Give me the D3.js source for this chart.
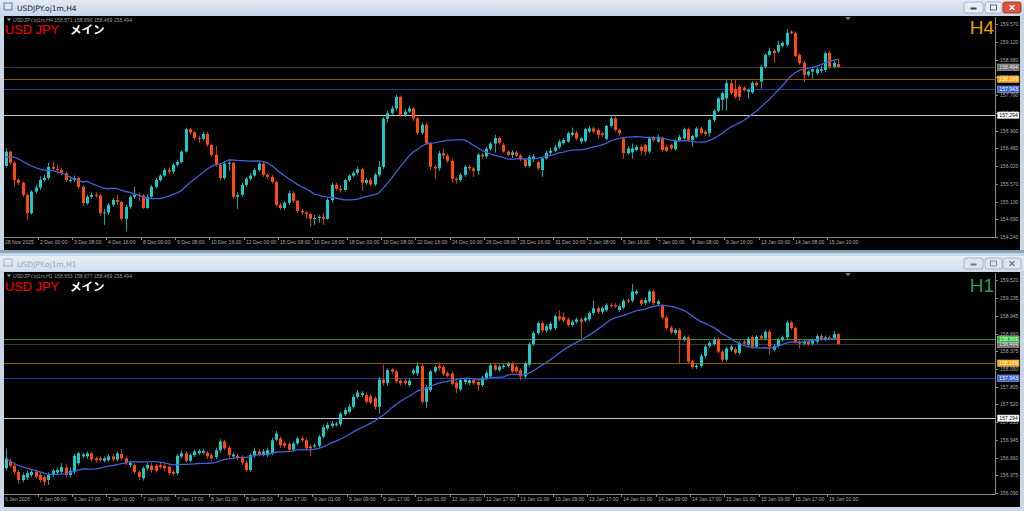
<!DOCTYPE html>
<html><head><meta charset="utf-8">
<script src="https://cdn.jsdelivr.net/npm/d3@7"></script>
<style>
html,body{margin:0;padding:0;background:#f0f0f0;overflow:hidden}
svg{display:block}
</style></head><body>
<svg id="c" width="1024" height="511"></svg>
<script>
// ---------------- DATA ----------------
const h4Open=[156.02,156.38,156.10,155.67,155.60,155.30,154.84,155.38,155.48,155.67,
155.72,156.00,155.95,155.92,155.84,155.67,155.67,155.72,155.50,155.09,
155.25,155.30,155.28,154.84,154.86,155.05,155.17,155.12,154.70,155.00,
155.25,155.30,155.28,154.97,155.25,155.50,155.67,155.78,155.92,155.88,
156.05,156.12,156.38,156.94,156.86,156.72,156.70,156.82,156.55,156.30,
156.05,155.72,156.08,156.10,155.25,155.30,155.55,155.70,155.78,155.92,
156.08,155.80,155.75,155.62,155.05,154.97,155.10,155.34,155.15,154.90,
154.86,154.82,154.70,154.72,154.75,154.70,155.17,155.55,155.45,155.42,
155.67,155.78,155.85,155.94,155.60,155.67,155.56,155.80,156.00,157.20,
157.34,157.46,157.75,157.30,157.38,157.46,157.21,156.85,157.05,156.59,
156.00,155.96,156.34,156.28,156.15,155.70,155.67,155.80,156.00,155.96,
155.90,156.30,156.26,156.45,156.58,156.72,156.55,156.38,156.30,156.36,
156.28,156.18,156.02,156.20,156.12,155.92,156.21,156.35,156.40,156.49,
156.59,156.63,156.80,156.85,156.63,156.65,156.88,156.96,156.92,156.84,
156.70,157.02,157.21,156.92,156.71,156.34,156.36,156.42,156.50,156.55,
156.38,156.74,156.63,156.73,156.50,156.55,156.44,156.65,156.71,156.94,
156.67,156.75,156.96,156.88,156.84,157.17,157.40,157.67,157.71,158.09,
157.95,158.00,157.98,157.88,157.86,158.10,158.13,158.50,158.80,158.90,
158.88,159.02,159.05,159.38,159.34,158.80,158.60,158.30,158.38,158.34,
158.40,158.42,158.85,158.50,158.571];
const h4High=[156.46,156.40,156.14,155.72,155.64,155.33,155.42,155.55,155.76,155.80,
156.10,156.12,156.05,155.98,155.88,155.75,155.78,155.76,155.55,155.30,
155.36,155.36,155.32,154.95,155.10,155.22,155.30,155.15,155.05,155.30,
155.50,155.36,155.32,155.30,155.55,155.72,155.82,155.98,155.98,156.10,
156.18,156.42,156.98,156.97,156.90,156.78,156.88,156.88,156.58,156.52,
156.08,156.14,156.16,156.12,155.36,155.60,155.75,155.84,155.98,156.12,
156.12,155.84,155.80,155.66,155.10,155.15,155.40,155.38,155.18,154.95,
154.90,154.85,154.80,154.80,154.85,155.22,155.60,155.60,155.55,155.70,
155.82,155.90,156.00,155.98,155.72,155.72,155.85,156.15,157.25,157.40,
157.52,157.80,157.78,157.45,157.52,157.50,157.25,157.10,157.10,156.62,
156.05,156.40,156.45,156.32,156.20,155.75,155.85,156.05,156.05,156.00,
156.35,156.35,156.50,156.62,156.80,156.76,156.60,156.42,156.42,156.40,
156.32,156.22,156.30,156.32,156.14,156.24,156.40,156.48,156.55,156.68,
156.72,156.88,156.98,156.90,156.75,156.98,157.02,157.00,156.95,156.88,
157.05,157.30,157.26,156.96,156.75,156.52,156.58,156.55,156.56,156.58,
156.75,156.78,156.80,156.76,156.55,156.58,156.68,156.80,156.98,156.98,
156.80,157.00,157.00,156.92,157.20,157.44,157.75,157.88,158.17,158.17,
158.17,158.05,158.02,157.96,158.14,158.14,158.55,158.84,158.98,158.95,
159.15,159.14,159.45,159.42,159.38,158.84,158.64,158.42,158.48,158.50,
158.52,158.88,158.90,158.64,158.696];
const h4Low=[155.98,156.05,155.50,155.55,155.25,154.67,154.80,155.33,155.42,155.62,
155.68,155.90,155.85,155.78,155.62,155.60,155.62,155.45,155.02,155.05,
155.20,155.22,154.78,154.55,154.80,155.00,155.05,154.65,154.38,154.95,
155.20,155.15,154.95,154.95,155.20,155.45,155.62,155.75,155.82,155.82,
156.00,156.08,156.35,156.80,156.68,156.60,156.66,156.50,156.25,156.00,
155.65,155.68,155.90,155.20,154.95,155.25,155.50,155.66,155.74,155.88,
155.75,155.70,155.58,155.00,154.92,154.92,155.05,155.10,154.85,154.80,
154.70,154.50,154.55,154.60,154.55,154.68,155.10,155.40,155.35,155.38,
155.62,155.74,155.80,155.40,155.55,155.52,155.52,155.75,155.95,157.10,
157.30,157.40,157.25,157.25,157.35,157.15,156.80,156.80,156.55,155.92,
155.70,155.90,156.20,156.10,155.60,155.58,155.62,155.75,155.90,155.75,
155.80,156.20,156.20,156.40,156.35,156.55,156.35,156.25,156.22,156.24,
156.14,155.98,155.98,156.12,155.92,155.75,156.18,156.30,156.36,156.45,
156.55,156.60,156.76,156.66,156.58,156.60,156.84,156.84,156.70,156.74,
156.66,156.98,156.88,156.78,156.20,156.30,156.20,156.38,156.30,156.28,
156.34,156.62,156.60,156.38,156.36,156.42,156.40,156.62,156.68,156.62,
156.50,156.72,156.80,156.76,156.75,157.12,157.36,157.42,157.40,157.80,
157.70,157.65,157.88,157.70,157.82,158.00,157.95,158.46,158.76,158.60,
158.84,158.98,159.00,159.30,158.74,158.55,158.12,158.25,158.20,158.30,
158.35,158.36,158.44,158.46,158.469];
const h4Close=[156.38,156.10,155.67,155.60,155.30,154.84,155.38,155.48,155.67,155.72,
156.00,155.95,155.92,155.84,155.67,155.67,155.72,155.50,155.09,155.25,
155.30,155.28,154.84,154.86,155.05,155.17,155.12,154.70,155.00,155.25,
155.30,155.28,154.97,155.25,155.50,155.67,155.78,155.92,155.88,156.05,
156.12,156.38,156.94,156.86,156.72,156.70,156.82,156.55,156.30,156.05,
155.72,156.08,156.10,155.25,155.30,155.55,155.70,155.78,155.92,156.08,
155.80,155.75,155.62,155.05,154.97,155.10,155.34,155.15,154.90,154.86,
154.82,154.70,154.72,154.75,154.70,155.17,155.55,155.45,155.42,155.67,
155.78,155.85,155.94,155.60,155.67,155.56,155.80,156.00,157.20,157.34,
157.46,157.75,157.30,157.38,157.46,157.21,156.85,157.05,156.59,156.00,
155.96,156.34,156.28,156.15,155.70,155.67,155.80,156.00,155.96,155.90,
156.30,156.26,156.45,156.58,156.72,156.60,156.38,156.30,156.36,156.28,
156.18,156.02,156.25,156.26,155.96,156.21,156.35,156.40,156.49,156.63,
156.67,156.84,156.85,156.71,156.71,156.94,156.96,156.88,156.80,156.80,
157.02,157.21,156.92,156.84,156.34,156.46,156.46,156.50,156.40,156.38,
156.71,156.67,156.75,156.42,156.40,156.46,156.65,156.75,156.94,156.67,
156.77,156.96,156.84,156.82,157.17,157.40,157.71,157.84,158.09,157.84,
157.75,157.75,157.92,157.92,158.10,158.04,158.50,158.80,158.90,158.84,
159.05,159.10,159.35,159.34,158.77,158.59,158.30,158.38,158.44,158.44,
158.44,158.84,158.50,158.60,158.494];
// SMA(20) values for the first 19 bars (earlier closes not visible)
const h4MaLead=[156.25,156.25,156.24,156.20,156.14,156.08,156.02,155.98,155.94,155.92,
155.91,155.90,155.88,155.85,155.80,155.75,155.70,155.66,155.62];

const h1Open=[156.49,156.60,156.53,156.43,156.30,156.34,156.38,156.43,156.38,156.35,
156.30,156.38,156.42,156.43,156.50,156.38,156.43,156.57,156.68,156.68,
156.73,156.65,156.65,156.61,156.62,156.68,156.63,156.72,156.65,156.54,
156.54,156.43,156.33,156.49,156.53,156.53,156.54,156.53,156.51,156.43,
156.41,156.68,156.73,156.61,156.70,156.73,156.74,156.74,156.70,156.67,
156.78,156.92,156.82,156.68,156.69,156.67,156.58,156.46,156.70,156.76,
156.71,156.70,156.73,156.95,156.97,156.89,156.88,156.79,156.89,156.97,
156.94,156.84,156.84,156.85,157.00,157.13,157.17,157.19,157.20,157.36,
157.40,157.48,157.64,157.67,157.67,157.65,157.62,157.48,157.92,157.86,
158.08,158.05,157.90,157.90,157.83,158.02,158.02,158.14,157.56,157.75,
158.05,158.14,158.12,158.02,158.02,157.87,157.76,157.88,157.86,157.91,
157.88,157.83,157.94,157.97,158.15,158.07,158.12,158.14,158.18,158.12,
158.07,157.97,158.16,158.49,158.67,158.83,158.71,158.73,158.75,158.94,
158.93,158.89,158.80,158.85,158.89,158.87,158.89,158.99,159.07,159.01,
159.04,159.12,159.12,159.04,159.08,159.20,159.19,159.31,159.20,159.15,
159.18,159.34,159.14,159.11,158.92,158.76,158.67,158.72,158.56,158.60,
158.21,158.12,158.14,158.30,158.46,158.49,158.57,158.37,158.24,158.40,
158.41,158.35,158.53,158.48,158.60,158.45,158.62,158.58,158.69,158.40,
158.46,158.56,158.60,158.84,158.75,158.53,158.50,158.53,158.50,158.53,
158.62,158.57,158.60,158.58,158.653];
const h1High=[156.81,156.64,156.56,156.46,156.42,156.45,156.48,156.47,156.42,156.38,
156.42,156.48,156.50,156.57,156.55,156.50,156.72,156.76,156.74,156.76,
156.76,156.68,156.68,156.68,156.71,156.72,156.76,156.80,156.68,156.61,
156.57,156.46,156.52,156.58,156.57,156.56,156.58,156.57,156.55,156.46,
156.72,156.78,156.76,156.73,156.79,156.80,156.80,156.77,156.73,156.82,
156.96,156.95,156.85,156.74,156.73,156.70,156.62,156.73,156.82,156.80,
156.80,156.82,156.98,157.09,157.00,156.92,156.91,156.92,157.00,157.00,
156.97,156.87,156.89,157.03,157.19,157.23,157.25,157.24,157.40,157.47,
157.52,157.68,157.75,157.73,157.71,157.68,157.65,157.96,158.16,158.10,
158.11,158.08,157.93,157.93,157.94,158.10,158.20,158.18,157.83,158.08,
158.15,158.20,158.15,158.05,158.05,157.90,157.94,157.95,157.94,157.94,
157.91,157.98,158.06,158.18,158.19,158.16,158.17,158.21,158.21,158.15,
158.10,158.21,158.52,158.70,158.86,158.87,158.81,158.85,158.97,159.04,
159.00,158.92,158.88,158.92,158.92,158.94,159.02,159.19,159.10,159.10,
159.15,159.15,159.15,159.13,159.22,159.23,159.46,159.37,159.23,159.24,
159.37,159.37,159.21,159.14,158.95,158.79,158.75,158.75,158.63,158.63,
158.24,158.17,158.33,158.48,158.54,158.60,158.60,158.40,158.45,158.48,
158.44,158.54,158.56,158.61,158.63,158.64,158.65,158.72,158.72,158.49,
158.59,158.63,158.87,158.87,158.78,158.56,158.56,158.56,158.58,158.65,
158.65,158.63,158.63,158.70,158.677];
const h1Low=[156.45,156.50,156.40,156.24,156.26,156.30,156.34,156.32,156.26,156.21,
156.22,156.34,156.38,156.40,156.34,156.34,156.40,156.54,156.65,156.64,
156.60,156.58,156.59,156.58,156.59,156.60,156.60,156.62,156.54,156.50,
156.40,156.30,156.29,156.45,156.42,156.42,156.48,156.44,156.38,156.36,
156.38,156.65,156.58,156.58,156.67,156.70,156.71,156.64,156.61,156.63,
156.74,156.78,156.66,156.66,156.62,156.54,156.43,156.43,156.66,156.68,
156.68,156.67,156.70,156.92,156.82,156.81,156.76,156.76,156.86,156.91,
156.78,156.68,156.81,156.82,156.97,157.10,157.14,157.16,157.17,157.33,
157.37,157.45,157.61,157.64,157.53,157.52,157.44,157.37,157.82,157.82,
158.01,157.86,157.82,157.83,157.80,157.99,157.98,157.53,157.46,157.72,
158.02,158.06,157.98,157.95,157.82,157.70,157.73,157.84,157.83,157.83,
157.74,157.80,157.91,157.94,158.05,158.04,158.09,158.11,158.02,158.02,
157.91,157.94,158.13,158.46,158.64,158.68,158.68,158.70,158.72,158.86,
158.84,158.77,158.77,158.82,158.58,158.84,158.86,158.96,158.98,158.98,
159.01,159.08,159.07,159.01,159.05,159.15,159.16,159.28,159.11,159.12,
159.15,159.12,159.11,158.89,158.72,158.65,158.64,158.18,158.53,158.18,
158.09,158.09,158.11,158.27,158.43,158.46,158.34,158.20,158.21,158.37,
158.32,158.32,158.47,158.45,158.42,158.42,158.55,158.55,158.32,158.37,
158.43,158.53,158.57,158.72,158.50,158.42,158.47,158.46,158.47,158.50,
158.54,158.54,158.55,158.55,158.469];
const h1Close=[156.65,156.53,156.43,156.30,156.38,156.41,156.43,156.35,156.30,156.27,
156.38,156.45,156.46,156.51,156.38,156.45,156.69,156.73,156.71,156.73,
156.63,156.62,156.62,156.65,156.68,156.63,156.73,156.65,156.57,156.58,
156.43,156.35,156.49,156.54,156.46,156.45,156.51,156.49,156.41,156.40,
156.69,156.73,156.61,156.70,156.76,156.77,156.77,156.68,156.65,156.78,
156.92,156.81,156.70,156.71,156.65,156.58,156.46,156.70,156.77,156.71,
156.76,156.78,156.94,157.05,156.86,156.85,156.79,156.89,156.97,156.94,
156.81,156.81,156.86,157.00,157.15,157.19,157.21,157.21,157.37,157.43,
157.48,157.64,157.71,157.70,157.56,157.55,157.48,157.92,157.86,158.07,
158.05,157.89,157.86,157.86,157.90,158.07,158.14,157.56,157.80,158.05,
158.12,158.10,158.01,157.98,157.85,157.78,157.91,157.92,157.91,157.86,
157.83,157.95,158.03,158.15,158.08,158.13,158.14,158.18,158.05,158.05,
157.97,158.18,158.49,158.67,158.83,158.71,158.78,158.82,158.94,158.89,
158.87,158.80,158.85,158.89,158.85,158.91,158.99,159.07,159.01,159.07,
159.12,159.11,159.10,159.10,159.19,159.18,159.34,159.34,159.14,159.20,
159.34,159.15,159.18,158.92,158.75,158.68,158.72,158.56,158.60,158.21,
158.12,158.14,158.30,158.45,158.51,158.57,158.37,158.24,158.42,158.45,
158.35,158.51,158.50,158.58,158.45,158.61,158.58,158.69,158.45,158.46,
158.56,158.60,158.84,158.75,158.53,158.50,158.53,158.49,158.55,158.62,
158.57,158.60,158.58,158.65,158.494];
const h1MaLead=[156.65,156.61,156.57,156.53,156.51,156.49,156.47,156.45,156.43,156.41,
156.39,156.39,156.39,156.40,156.40,156.42,156.44,156.46,156.48];

const h4PriceTicks=[159.570,159.120,158.680,158.240,157.790,157.350,156.900,156.460,156.020,155.570,155.130,154.690,154.240];
const h1PriceTicks=[159.520,159.235,158.945,158.660,158.375,158.090,157.805,157.520,157.235,156.945,156.660,156.375,156.090];
const h4TimeLabels=["28 Nov 2025","2 Dec 00:00","3 Dec 08:00","4 Dec 16:00","8 Dec 00:00","9 Dec 08:00","10 Dec 16:00","12 Dec 00:00","15 Dec 08:00","16 Dec 16:00","18 Dec 00:00","19 Dec 08:00","22 Dec 16:00","24 Dec 00:00","26 Dec 08:00","29 Dec 16:00","31 Dec 00:00","2 Jan 08:00","5 Jan 16:00","7 Jan 00:00","8 Jan 08:00","9 Jan 16:00","13 Jan 00:00","14 Jan 08:00","15 Jan 16:00"];
const h1TimeLabels=["6 Jan 2026","6 Jan 09:00","6 Jan 17:00","7 Jan 01:00","7 Jan 09:00","7 Jan 17:00","8 Jan 01:00","8 Jan 09:00","8 Jan 17:00","9 Jan 01:00","9 Jan 09:00","9 Jan 17:00","12 Jan 01:00","12 Jan 09:00","12 Jan 17:00","13 Jan 01:00","13 Jan 09:00","13 Jan 17:00","14 Jan 01:00","14 Jan 09:00","14 Jan 17:00","15 Jan 01:00","15 Jan 09:00","15 Jan 17:00","16 Jan 01:00"];
const h4Levels=[157.294,157.943,158.189,158.494];
const h1Levels=[157.294,157.943,158.189,158.494,158.569];
const h4Header="USDJPY.oj1m,H4  158.571 158.696 158.469 158.494";
const h1Header="USDJPY.oj1m,H1  158.653 158.677 158.469 158.494";

// ---------------- STYLE ----------------
const levelStyle={
 "157.294":{line:"#c8c8c8",bg:"#ffffff",fg:"#000000"},
 "157.943":{line:"#1e3c9a",bg:"#3a5fd6",fg:"#ffffff"},
 "158.189":{line:"#8a5a00",bg:"#ffa200",fg:"#ffffff"},
 "158.494":{line:"#3a3a3a",bg:"#6e6e6e",fg:"#e8e8e8"},
 "158.569":{line:"#2a8f2a",bg:"#2bb82b",fg:"#ffffff"}
};
const BULL="#1cc8c8", BEAR="#ff4a0a", BULLW="#14a4a4", BEARW="#c83a08";
const MA_COL="#3f62d8";
const smallFont="'Liberation Sans', Arial, sans-serif";
const SF=5.1;

const svg=d3.select("#c");
svg.append("rect").attr("x",0).attr("y",0).attr("width",1024).attr("height",511).attr("fill","#c9d6e6");
const defs=svg.append("defs");
const gA=defs.append("linearGradient").attr("id","tbA").attr("x1",0).attr("x2",0).attr("y1",0).attr("y2",1);
gA.append("stop").attr("offset",0).attr("stop-color","#e3ebf5");
gA.append("stop").attr("offset",1).attr("stop-color","#c8d6e8");
const gI=defs.append("linearGradient").attr("id","tbI").attr("x1",0).attr("x2",0).attr("y1",0).attr("y2",1);
gI.append("stop").attr("offset",0).attr("stop-color","#e8eef6");
gI.append("stop").attr("offset",1).attr("stop-color","#d3dfec");

function titleBar(y, h, text, active){
  const g=svg.append("g");
  g.append("rect").attr("x",0).attr("y",y).attr("width",1024).attr("height",h).attr("fill",active?"url(#tbA)":"url(#tbI)");
  g.append("rect").attr("x",4).attr("y",y+3).attr("width",8).attr("height",7).attr("fill","none").attr("stroke",active?"#5a7ea8":"#9fb4cc").attr("stroke-width",1);
  g.append("text").attr("x",17).attr("y",y+h-4).attr("font-family","'DejaVu Sans',sans-serif").attr("font-size",7.5)
   .attr("fill",active?"#1a2a3a":"#9aaabb").text(text);
  const bx=[964,985,1003], bw=[19,17,18];
  bx.forEach((x,k)=>{
    const red=(k===2&&active);
    g.append("rect").attr("x",x).attr("y",y+2).attr("width",bw[k]).attr("height",h-4).attr("rx",2)
     .attr("fill",red?"#d9553f":(active?"#e6edf5":"#dde6f0")).attr("stroke",red?"#9a2d1e":"#98aabf").attr("stroke-width",0.8);
    const cx=x+bw[k]/2, cy=y+h/2;
    if(k===0) g.append("rect").attr("x",cx-3).attr("y",cy).attr("width",6).attr("height",2).attr("fill",active?"#444":"#778");
    if(k===1) g.append("rect").attr("x",cx-3).attr("y",cy-2.5).attr("width",6).attr("height",5).attr("fill","none").attr("stroke",active?"#444":"#778").attr("stroke-width",0.8);
    if(k===2) g.append("path").attr("d",`M${cx-2.5},${cy-2.5}L${cx+2.5},${cy+2.5}M${cx+2.5},${cy-2.5}L${cx-2.5},${cy+2.5}`).attr("stroke",red?"#fff":"#778").attr("stroke-width",1.3);
  });
}
titleBar(0,15,"USDJPY.oj1m,H4",true);
svg.append("rect").attr("x",0).attr("y",250).attr("width",1024).attr("height",3).attr("fill","#7fa6b8");
titleBar(256,15,"USDJPY.oj1m,H1",false);

function panel(cfg){
  const {top,bottom,plotBottom,open,high,low,close,maLead,ticks,timeLabels,levels,header,tf,tfColor,tfBase,nameBase,yDomain,yRange}=cfg;
  const g=svg.append("g");
  g.append("rect").attr("x",4).attr("y",top).attr("width",1016).attr("height",bottom-top).attr("fill","#000");
  const n=close.length;
  const x=d3.scaleLinear().domain([0,n-1]).range([5.5,838]);
  const y=d3.scaleLinear().domain(yDomain).range(yRange);
  const clip="clip"+top;
  defs.append("clipPath").attr("id",clip).append("rect").attr("x",4).attr("y",top+1).attr("width",991).attr("height",plotBottom-top-1);
  const pg=g.append("g").attr("clip-path",`url(#${clip})`);
  levels.forEach(v=>{
    const s=levelStyle[v.toFixed(3)];
    pg.append("line").attr("x1",4).attr("x2",995).attr("y1",Math.round(y(v))+0.5).attr("y2",Math.round(y(v))+0.5)
      .attr("stroke",s.line).attr("stroke-width",1);
  });
  const idx=d3.range(n);
  pg.selectAll(".w").data(idx).join("line")
    .attr("x1",i=>Math.round(x(i))+0.5).attr("x2",i=>Math.round(x(i))+0.5)
    .attr("y1",i=>y(high[i])).attr("y2",i=>y(low[i]))
    .attr("stroke",i=>close[i]>=open[i]?BULLW:BEARW).attr("stroke-width",1);
  pg.selectAll(".b").data(idx).join("rect")
    .attr("x",i=>Math.round(x(i))-1).attr("width",3)
    .attr("y",i=>y(Math.max(open[i],close[i])))
    .attr("height",i=>Math.max(1,Math.abs(y(open[i])-y(close[i]))))
    .attr("fill",i=>close[i]>=open[i]?BULL:BEAR);
  const ma=idx.map(i=> i<maLead.length? maLead[i] : d3.mean(close.slice(i-19,i+1)));
  pg.append("path").datum(idx).attr("fill","none").attr("stroke",MA_COL).attr("stroke-width",1.3)
    .attr("d",d3.line().x(i=>x(i)).y(i=>y(ma[i])));
  g.append("line").attr("x1",4).attr("x2",995.5).attr("y1",plotBottom+0.5).attr("y2",plotBottom+0.5).attr("stroke","#8a8a8a");
  g.append("line").attr("x1",995.5).attr("x2",995.5).attr("y1",top+1).attr("y2",plotBottom+0.5).attr("stroke","#8a8a8a");
  ticks.forEach(v=>{
    const yy=Math.round(y(v))+0.5;
    g.append("line").attr("x1",995.5).attr("x2",998).attr("y1",yy).attr("y2",yy).attr("stroke","#8a8a8a");
    g.append("text").attr("x",1000).attr("y",yy+1.8).attr("font-family",smallFont).attr("font-size",SF).attr("fill","#a8a8a8").text(v.toFixed(3));
  });
  levels.forEach(v=>{
    const s=levelStyle[v.toFixed(3)];
    const yy=Math.round(y(v));
    g.append("rect").attr("x",997.5).attr("y",yy-3).attr("width",21.5).attr("height",6.5).attr("fill",s.bg).attr("stroke","#d0d0d0").attr("stroke-width",0.5);
    g.append("text").attr("x",999.3).attr("y",yy+2.2).attr("font-family",smallFont).attr("font-size",SF).attr("fill",s.fg).text(v.toFixed(3));
  });
  timeLabels.forEach((t,k)=>{
    const xx=Math.round(x(k*8))-1.5;
    if(k>0) g.append("line").attr("x1",xx).attr("x2",xx).attr("y1",plotBottom).attr("y2",plotBottom+3).attr("stroke","#8a8a8a");
    g.append("text").attr("x",k===0?5:xx+1.5).attr("y",plotBottom+7.3).attr("font-family",smallFont).attr("font-size",SF).attr("fill","#a8a8a8").text(t);
  });
  g.append("path").attr("d",`M7,${top+2.5}L11,${top+2.5}L9,${top+5}Z`).attr("fill","#a0a0a0");
  g.append("text").attr("x",13).attr("y",top+5.6).attr("font-family",smallFont).attr("font-size",SF).attr("fill","#9a9a9a").text(header);
  g.append("text").attr("x",5).attr("y",top+nameBase).attr("font-family","'Liberation Sans',Arial,sans-serif").attr("font-size",12.8).attr("fill","#ff0000").text("USD JPY");
  g.append("text").attr("x",70).attr("y",top+nameBase).attr("font-family","'Noto Sans CJK JP',sans-serif").attr("font-size",11.5).attr("font-weight","bold").attr("fill","#ffffff").text("メイン");
  g.append("text").attr("x",994).attr("y",top+tfBase).attr("text-anchor","end").attr("font-family","'Liberation Sans',Arial,sans-serif").attr("font-size",19).attr("fill",tfColor).text(tf);
  g.append("path").attr("d",`M845,${top+1}L851,${top+1}L848,${top+4}Z`).attr("fill","#808080");
}

panel({top:16,bottom:250,plotBottom:237,open:h4Open,high:h4High,low:h4Low,close:h4Close,maLead:h4MaLead,
  ticks:h4PriceTicks,timeLabels:h4TimeLabels,levels:h4Levels,header:h4Header,tf:"H4",tfColor:"#e8a000",tfBase:17.8,nameBase:18,
  yDomain:[154.240,159.570],yRange:[237.2,24]});
panel({top:272,bottom:507,plotBottom:494,open:h1Open,high:h1High,low:h1Low,close:h1Close,maLead:h1MaLead,
  ticks:h1PriceTicks,timeLabels:h1TimeLabels,levels:h1Levels,header:h1Header,tf:"H1",tfColor:"#2e9a5a",tfBase:19.5,nameBase:18.5,
  yDomain:[156.090,159.520],yRange:[493.0,280.3]});
</script>
</body></html>
